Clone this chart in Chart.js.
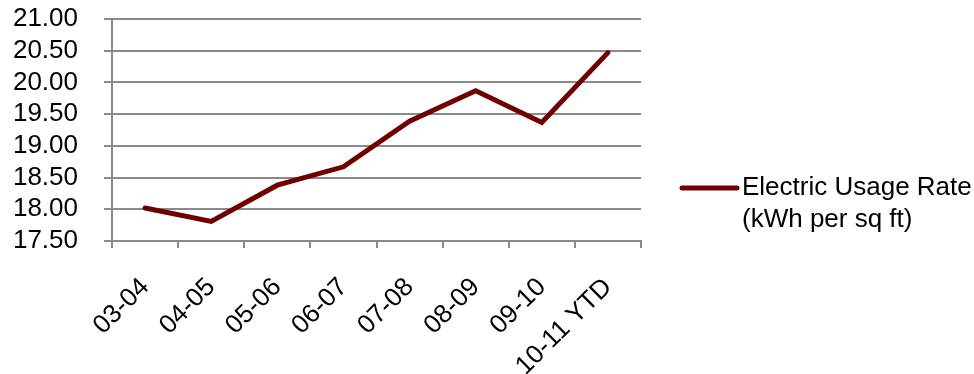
<!DOCTYPE html>
<html>
<head>
<meta charset="utf-8">
<script src="https://cdn.jsdelivr.net/npm/chart.js@4/dist/chart.umd.min.js"></script>
<style>
  html, body { margin: 0; padding: 0; background: #ffffff; }
  #wrap { width: 974px; height: 374px; position: relative; }
</style>
</head>
<body>
<div id="wrap"><canvas id="c" width="974" height="374"></canvas></div>
<script>
// Fiscal years and the electric usage rate for each (kWh per sq ft)
const years = ['03-04', '04-05', '05-06', '06-07', '07-08', '08-09', '09-10', '10-11 YTD'];
const usageRate = [18.02, 17.81, 18.38, 18.67, 19.39, 19.87, 19.37, 20.47];
const seriesLabel = ['Electric Usage Rate', '(kWh per sq ft)'];

// Value axis range
const yMin = 17.5;
const yMax = 21.0;
const yStep = 0.5;

const FONT = "'Liberation Sans', Arial, sans-serif";
const LINE_COLOR = '#700000';
const GRID_COLOR = '#8a8a8a';

// Legend on the right: short line swatch followed by a two-line label
const sideLegend = {
  id: 'sideLegend',
  afterDraw(chart) {
    const ctx = chart.ctx;
    const area = chart.chartArea;
    const x0 = area.right + 41;
    const yMid = 204;
    ctx.save();
    ctx.strokeStyle = LINE_COLOR;
    ctx.lineWidth = 5;
    ctx.lineCap = 'round';
    ctx.beginPath();
    ctx.moveTo(x0, yMid - 16);
    ctx.lineTo(x0 + 55, yMid - 16);
    ctx.stroke();
    ctx.fillStyle = '#000000';
    ctx.font = '26px ' + FONT;
    ctx.textBaseline = 'middle';
    ctx.textAlign = 'left';
    ctx.fillText(seriesLabel[0], x0 + 60, yMid - 16);
    ctx.fillText(seriesLabel[1], x0 + 60, yMid + 16);
    ctx.restore();
  }
};

new Chart(document.getElementById('c'), {
  type: 'line',
  data: {
    labels: years,
    datasets: [{
      label: seriesLabel.join(' '),
      data: usageRate,
      borderColor: LINE_COLOR,
      backgroundColor: LINE_COLOR,
      borderWidth: 5,
      pointRadius: 0,
      tension: 0,
      borderCapStyle: 'round',
      borderJoinStyle: 'miter'
    }]
  },
  options: {
    responsive: false,
    animation: false,
    devicePixelRatio: 1,
    layout: { padding: { left: 10, right: 333, top: 19, bottom: 0 } },
    plugins: {
      legend: { display: false },
      tooltip: { enabled: false }
    },
    scales: {
      x: {
        type: 'category',
        offset: true,
        grid: {
          display: true,
          offset: true,
          drawOnChartArea: false,
          drawTicks: true,
          tickLength: 7,
          color: GRID_COLOR,
          lineWidth: 2
        },
        border: { display: true, color: GRID_COLOR, width: 2 },
        ticks: {
          color: '#000000',
          font: { family: FONT, size: 26 },
          minRotation: 45,
          maxRotation: 45,
          autoSkip: false,
          padding: 24
        },
        afterFit(scale) {
          scale.height = 133;
          scale.paddingLeft = 0;
          scale.paddingRight = 0;
        }
      },
      y: {
        min: yMin,
        max: yMax,
        grid: {
          color: GRID_COLOR,
          lineWidth: 2,
          drawTicks: true,
          tickLength: 8
        },
        border: { display: true, color: GRID_COLOR, width: 2 },
        ticks: {
          stepSize: yStep,
          autoSkip: false,
          color: '#000000',
          font: { family: FONT, size: 26 },
          padding: 26,
          callback: v => Number(v).toFixed(2)
        },
        afterFit(scale) {
          scale.width = 102;
          scale.paddingTop = 0;
          scale.paddingBottom = 0;
        }
      }
    }
  },
  plugins: [sideLegend]
});
</script>
</body>
</html>
